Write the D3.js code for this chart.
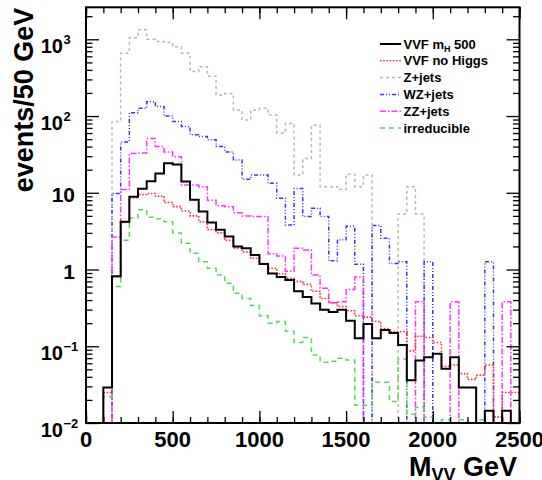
<!DOCTYPE html>
<html>
<head>
<meta charset="utf-8">
<script src="https://cdn.jsdelivr.net/npm/d3@7"></script>
<style>
  html, body { margin: 0; padding: 0; background: #fff; }
  svg { display: block; font-family: "Liberation Sans", Arial, Helvetica, sans-serif; }
</style>
</head>
<body>
<svg id="chart" width="542" height="480"></svg>
<script>
// 50 GeV bins from 0 to 2500 GeV
const binWidth = 50;
const nBins = 50;

// events per bin for each sample
const vvfH500 = [0,0,0.029,0.82,4.2,8.9,11.3,14.1,17.8,24.3,23.3,14,8.1,5.7,4.1,3.3,2.7,2.0,1.9,1.55,
  1.18,0.89,0.8,0.73,0.52,0.44,0.36,0.30,0.28,0.30,0.215,0.127,0.195,0.127,0.163,0.149,0.104,0.036,0.065,0.072,
  0.08,0.051,0.072,0.029,0.029,0,0.0144,0,0.0144,0];
const vvfNoHiggs = [0,0,0.025,0.8,4.1,8.6,9.5,9.8,9.0,7.5,6.6,5.8,5.0,4.2,3.3,3.0,2.4,1.9,1.7,1.4,
  1.2,1.04,0.88,0.77,0.7,0.64,0.52,0.42,0.37,0.33,0.29,0.25,0.24,0.21,0.17,0.155,0.155,0.087,0.135,0.13,
  0.112,0.055,0.057,0.044,0.037,0.042,0.057,0.012,0.025,0.025];
const zJets = [0,0,0,85,660,1050,1330,1000,935,910,800,660,380,440,330,188,197,120,89,120,
  126,103,60,80,17,28,76,12,12,11,17.5,12,17,0,0,0,5.3,12,5.3,0,
  0,0,0,0,0,0,0,0,0,0];
const wzJets = [0,0,0,9.8,46,110,126,154,133,100,85,73,57,54,49,40,34,26.7,15,17,
  17,13.3,8.5,3.8,11.4,4.9,6.3,4.9,1.3,2.45,3.65,1.17,0,3.75,2.55,1.2,1.26,0,0,1.26,
  0,0,0,0,0,0,1.26,0,0,0];
const zzJets = [0,0,0,2.65,11,32.6,33,51,40,34,29.5,12.6,12.6,12,8,6.8,6.6,5.5,5,4.9,
  4.9,1.6,1.5,0.95,1.9,1.8,0.85,0.57,0.37,0.38,0.55,0.8,0,0,0,0,0,0,0.38,0,
  0,0,0.38,0,0,0,0,0,0.38,0];
const irreducible = [0,0,0.022,0.6,2.4,4.7,6.0,4.8,4.6,4.2,3.0,2.2,1.63,1.26,1.04,0.85,0.66,0.49,0.42,0.34,
  0.25,0.2,0.21,0.157,0.112,0.13,0.077,0.062,0.064,0.07,0.066,0.017,0.017,0.034,0.034,0.019,0.068,0.013,0.016,0.012,
  0,0.011,0,0.011,0,0.011,0,0,0,0];

// axis tick labels
const xTickValues = [0, 500, 1000, 1500, 2000, 2500];
const yTickExponents = [-2, -1, 0, 1, 2, 3];

// samples in drawing order (last one on top)
const samples = [
  { name: "Z+jets",       values: zJets,       color: "#c9b3a7", width: 1.5, dash: "3,3" },
  { name: "WZ+jets",      values: wzJets,      color: "#3535ff", width: 1.5, dash: "4,2,1,2,1,2" },
  { name: "ZZ+jets",      values: zzJets,      color: "#ff35ff", width: 1.5, dash: "6,2,1.5,2" },
  { name: "irreducible",  values: irreducible, color: "#55d855", width: 1.5, dash: "5,4" },
  { name: "VVF no Higgs", values: vvfNoHiggs,  color: "#ff3535", width: 1.6, dash: "1.6,1.6" },
  { name: "VVF m_H 500",  values: vvfH500,     color: "#000000", width: 2,   dash: null }
];
const legendOrder = ["VVF m_H 500", "VVF no Higgs", "Z+jets", "WZ+jets", "ZZ+jets", "irreducible"];

const svg = d3.select("#chart");
const plotLeft = 86, plotRight = 519.5, plotTop = 7.3, plotBottom = 423;

const x = d3.scaleLinear().domain([0, nBins * binWidth]).range([plotLeft, plotRight]);
const y = d3.scaleLog().domain([0.01, 2612]).range([plotBottom, plotTop]);

svg.append("rect").attr("width", 542).attr("height", 480).attr("fill", "#fff");

svg.append("defs").append("clipPath").attr("id", "plotClip")
  .append("rect").attr("x", plotLeft).attr("y", plotTop)
  .attr("width", plotRight - plotLeft).attr("height", plotBottom - plotTop);

// step outline of a histogram; empty bins drop below the frame
const line = d3.line().x(d => d[0]).y(d => d[1]);
function stepPoints(values) {
  const pts = [[x(0), y(0.001)]];
  values.forEach((v, i) => {
    const yy = v > 0 ? y(v) : y(0.001);
    pts.push([x(i * binWidth), yy], [x((i + 1) * binWidth), yy]);
  });
  pts.push([x(nBins * binWidth), y(0.001)]);
  return pts;
}

const plot = svg.append("g").attr("clip-path", "url(#plotClip)");
samples.forEach(s => {
  plot.append("path")
    .attr("d", line(stepPoints(s.values)))
    .attr("fill", "none")
    .attr("stroke", s.color)
    .attr("stroke-width", s.width)
    .attr("stroke-dasharray", s.dash)
    .attr("stroke-linejoin", "miter");
});

// ticks on all four sides, pointing inward
const xMinor = d3.range(0, 2501, 100);
const yMajor = yTickExponents.map(e => Math.pow(10, e));
const yMinor = [];
for (let e = -2; e <= 3; e++) {
  for (let m = 2; m <= 9; m++) {
    const v = m * Math.pow(10, e);
    if (v <= y.domain()[1]) yMinor.push(v);
  }
}

function tickAxis(axisFn, scale, values, size, transform) {
  const g = svg.append("g").attr("transform", transform)
    .call(axisFn(scale).tickValues(values).tickSize(-size).tickSizeOuter(0).tickFormat(""));
  g.select(".domain").remove();
  g.selectAll(".tick line").attr("stroke", "#000").attr("stroke-width", 1.3);
}
tickAxis(d3.axisBottom, x, xMinor, 6, `translate(0,${plotBottom})`);
tickAxis(d3.axisBottom, x, xTickValues, 12, `translate(0,${plotBottom})`);
tickAxis(d3.axisTop, x, xMinor, 6, `translate(0,${plotTop})`);
tickAxis(d3.axisTop, x, xTickValues, 12, `translate(0,${plotTop})`);
tickAxis(d3.axisLeft, y, yMinor, 6.5, `translate(${plotLeft},0)`);
tickAxis(d3.axisLeft, y, yMajor, 13, `translate(${plotLeft},0)`);
tickAxis(d3.axisRight, y, yMinor, 6.5, `translate(${plotRight},0)`);
tickAxis(d3.axisRight, y, yMajor, 13, `translate(${plotRight},0)`);

// frame
svg.append("rect")
  .attr("x", plotLeft).attr("y", plotTop)
  .attr("width", plotRight - plotLeft).attr("height", plotBottom - plotTop)
  .attr("fill", "none").attr("stroke", "#000").attr("stroke-width", 2);

// x tick labels
svg.append("g").selectAll("text").data(xTickValues).join("text")
  .attr("x", d => x(d)).attr("y", 447)
  .attr("text-anchor", "middle")
  .attr("font-size", 22).attr("font-weight", "bold")
  .text(d => d);

// y tick labels: 10^n notation except for 1 and 10
const yLab = svg.append("g");
yTickExponents.forEach(e => {
  const ty = y(Math.pow(10, e));
  if (e === 0 || e === 1) {
    yLab.append("text")
      .attr("x", 75).attr("y", ty + 9)
      .attr("text-anchor", "end")
      .attr("font-size", 21).attr("font-weight", "bold")
      .text(e === 0 ? "1" : "10");
  } else {
    yLab.append("text")
      .attr("x", 63).attr("y", ty + 14)
      .attr("text-anchor", "end")
      .attr("font-size", 20).attr("font-weight", "bold")
      .text("10");
    yLab.append("text")
      .attr("x", 63.5).attr("y", ty + 5)
      .attr("font-size", 13).attr("font-weight", "bold")
      .text(e < 0 ? "\u2212" + Math.abs(e) : String(e));
  }
});

// axis titles
svg.append("text")
  .attr("transform", "translate(33,100) rotate(-90)")
  .attr("text-anchor", "middle")
  .attr("font-size", 27).attr("font-weight", "bold")
  .text("events/50 GeV");

const xt = svg.append("text")
  .attr("x", 517).attr("y", 476)
  .attr("text-anchor", "end")
  .attr("font-size", 27).attr("font-weight", "bold");
xt.append("tspan").text("M");
xt.append("tspan").attr("font-size", 18).attr("dy", 5).text("VV");
xt.append("tspan").attr("dy", -5).text(" GeV");

// legend
const legend = svg.append("g");
legendOrder.forEach((name, i) => {
  const s = samples.find(d => d.name === name);
  const by = 48.5 + i * 16.8;
  legend.append("line")
    .attr("x1", 380).attr("x2", 401)
    .attr("y1", by - 4.5).attr("y2", by - 4.5)
    .attr("stroke", s.color)
    .attr("stroke-width", s.width)
    .attr("stroke-dasharray", s.dash);
  const t = legend.append("text")
    .attr("x", 403.5).attr("y", by)
    .attr("font-size", 13).attr("font-weight", "bold");
  if (name === "VVF m_H 500") {
    t.append("tspan").text("VVF m");
    t.append("tspan").attr("font-size", 9).attr("dy", 3).text("H");
    t.append("tspan").attr("dy", -3).text(" 500");
  } else {
    t.text(name);
  }
});
</script>
</body>
</html>
